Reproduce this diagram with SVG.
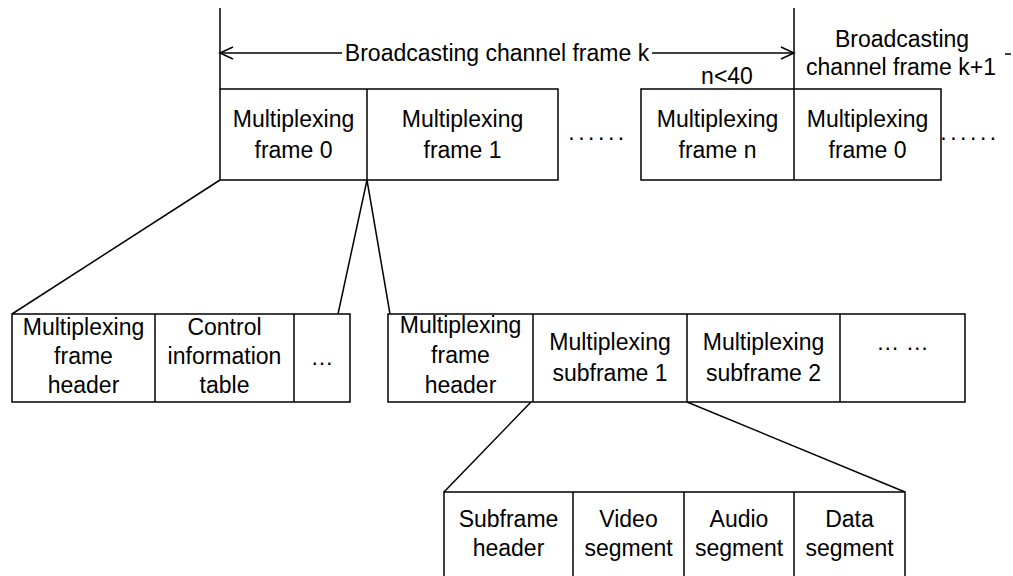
<svg xmlns="http://www.w3.org/2000/svg" width="1013" height="576" viewBox="0 0 1013 576">
<style>
  .b{fill:#fff;stroke:#000;stroke-width:1.5}
  .l{stroke:#000;stroke-width:1.5;fill:none}
  text{font-family:"Liberation Sans",Arial,sans-serif;font-size:23px;fill:#000;text-anchor:middle}
</style>
<rect width="1013" height="576" fill="#fff"/>
<g id="connectors">
  <line class="l" x1="220" y1="8" x2="220" y2="89"/>
  <line class="l" x1="794" y1="8" x2="794" y2="89"/>
  <line class="l" x1="220" y1="53" x2="342" y2="53"/>
  <polyline class="l" points="233,47 220,53 233,59"/>
  <line class="l" x1="652" y1="53" x2="794" y2="53"/>
  <polyline class="l" points="781,47 794,53 781,59"/>
  <line class="l" x1="1005" y1="54" x2="1011" y2="54"/>
  <line class="l" x1="220" y1="180" x2="12" y2="314"/>
  <line class="l" x1="367" y1="180" x2="338" y2="314"/>
  <line class="l" x1="367" y1="180" x2="390" y2="314"/>
  <line class="l" x1="531" y1="402" x2="444" y2="492"/>
  <line class="l" x1="687" y1="402" x2="905" y2="492"/>
</g>
<g id="label-frame-k"><text x="497" y="61">Broadcasting channel frame k</text></g>
<g id="label-n40"><text x="727" y="84">n&lt;40</text></g>
<g id="label-frame-k1">
  <text x="902" y="47">Broadcasting</text>
  <text x="901" y="75">channel frame k+1</text>
</g>
<g id="top-frames-a">
  <rect class="b" x="220" y="89" width="338" height="91"/>
  <line class="l" x1="367" y1="89" x2="367" y2="180"/>
  <text x="293.5" y="127">Multiplexing</text>
  <text x="293.5" y="158">frame 0</text>
  <text x="462.5" y="127">Multiplexing</text>
  <text x="462.5" y="158">frame 1</text>
</g>
<g id="dots-top">
  <text x="598" y="140" letter-spacing="3.5">......</text>
  <text x="970" y="140" letter-spacing="3.5">......</text>
</g>
<g id="top-frames-b">
  <rect class="b" x="641" y="89" width="300" height="91"/>
  <line class="l" x1="794" y1="89" x2="794" y2="180"/>
  <text x="717.5" y="127">Multiplexing</text>
  <text x="717.5" y="158">frame n</text>
  <text x="867.5" y="127">Multiplexing</text>
  <text x="867.5" y="158">frame 0</text>
</g>
<g id="frame0-detail">
  <rect class="b" x="12" y="314" width="338" height="88"/>
  <line class="l" x1="155" y1="314" x2="155" y2="402"/>
  <line class="l" x1="294" y1="314" x2="294" y2="402"/>
  <text x="83.5" y="335">Multiplexing</text>
  <text x="83.5" y="364">frame</text>
  <text x="83.5" y="393">header</text>
  <text x="224.5" y="335">Control</text>
  <text x="224.5" y="364">information</text>
  <text x="224.5" y="393">table</text>
  <text x="322" y="365">…</text>
</g>
<g id="frame1-detail">
  <rect class="b" x="388" y="314" width="577" height="88"/>
  <line class="l" x1="533" y1="314" x2="533" y2="402"/>
  <line class="l" x1="687" y1="314" x2="687" y2="402"/>
  <line class="l" x1="840" y1="314" x2="840" y2="402"/>
  <text x="460.5" y="333">Multiplexing</text>
  <text x="460.5" y="363">frame</text>
  <text x="460.5" y="393">header</text>
  <text x="610" y="350">Multiplexing</text>
  <text x="610" y="381">subframe 1</text>
  <text x="763.5" y="350">Multiplexing</text>
  <text x="763.5" y="381">subframe 2</text>
  <text x="902.5" y="350">… …</text>
</g>
<g id="subframe-detail">
  <rect class="b" x="444" y="492" width="461" height="110"/>
  <line class="l" x1="573" y1="492" x2="573" y2="576"/>
  <line class="l" x1="684" y1="492" x2="684" y2="576"/>
  <line class="l" x1="794" y1="492" x2="794" y2="576"/>
  <text x="508.5" y="527">Subframe</text>
  <text x="508.5" y="556">header</text>
  <text x="628.5" y="527">Video</text>
  <text x="628.5" y="556">segment</text>
  <text x="739" y="527">Audio</text>
  <text x="739" y="556">segment</text>
  <text x="849.5" y="527">Data</text>
  <text x="849.5" y="556">segment</text>
</g>
</svg>
